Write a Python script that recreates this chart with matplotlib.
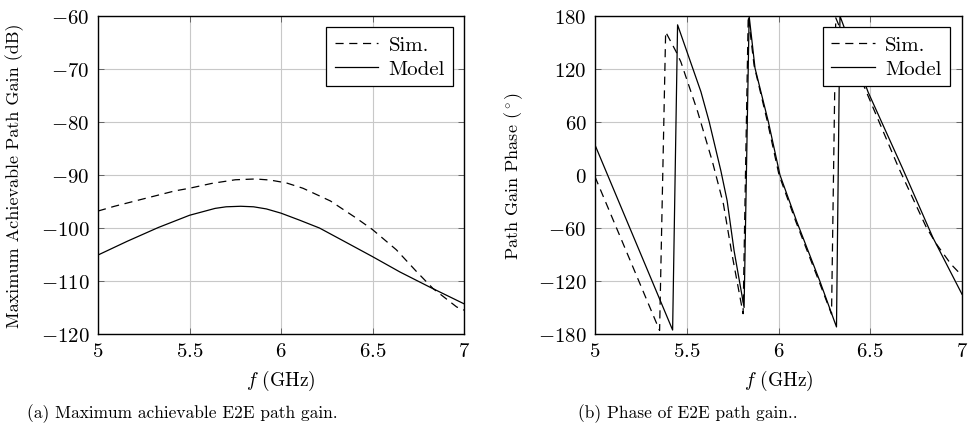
import matplotlib.pyplot as plt
import numpy as np
from matplotlib.ticker import FuncFormatter

# (a) maximum achievable E2E path gain, dB
f_gain_sim = [5.0, 5.09, 5.26, 5.42, 5.5, 5.62, 5.75, 5.86, 5.94, 6.03, 6.12,
              6.27, 6.41, 6.5, 6.63, 6.74, 6.83, 6.96, 7.0]
gain_sim = [-96.8, -95.9, -94.4, -93.0, -92.5, -91.6, -90.9, -90.75, -90.95,
            -91.5, -92.5, -94.9, -98.1, -100.3, -104.1, -108.2, -111.4, -114.9, -115.5]
f_gain_model = [5.0, 5.16, 5.33, 5.5, 5.64, 5.7, 5.78, 5.85, 5.92, 6.0, 6.1,
                6.21, 6.35, 6.5, 6.65, 6.81, 7.0]
gain_model = [-105.1, -102.5, -99.9, -97.6, -96.3, -96.0, -95.9, -96.0, -96.4,
              -97.2, -98.5, -100.0, -102.6, -105.4, -108.3, -111.1, -114.3]

# (b) phase of E2E path gain, degrees
f_phase_sim = [5.0, 5.352, 5.385, 5.441, 5.468, 5.559, 5.64, 5.70, 5.745, 5.807,
               5.835, 5.867, 5.94, 6.003, 6.095, 6.22, 6.289, 6.312, 6.479, 6.655,
               6.805, 6.86, 6.94, 7.0]
phase_sim = [-2, -176, 162, 140, 128, 72, 15, -33, -88, -157,
             180, 124, 60, 0, -53, -120, -157.5, 178, 94, 8,
             -59, -78, -101, -114]
f_phase_model = [5.0, 5.423, 5.45, 5.577, 5.622, 5.686, 5.72, 5.758, 5.8125,
                 5.84, 5.872, 5.945, 6.008, 6.1, 6.225, 6.316, 6.335, 6.488,
                 6.675, 6.841, 7.0]
phase_model = [34, -175.5, 170, 94.4, 60.5, 4.7, -29, -85.8, -150,
               180, 121, 60, 0, -53, -120, -172, 180, 94,
               8, -70.7, -135]

x_ticks = [5, 5.5, 6, 6.5, 7]
gain_ticks = [-120, -110, -100, -90, -80, -70, -60]
phase_ticks = [-180, -120, -60, 0, 60, 120, 180]

plt.rcParams['font.family'] = 'serif'
plt.rcParams['font.serif'] = ['cmr10']
plt.rcParams['mathtext.fontset'] = 'cm'
plt.rcParams['axes.formatter.use_mathtext'] = True
plt.rcParams['font.size'] = 14


def tick_fmt(v, pos):
    return f"${v:g}$"


fig = plt.figure(figsize=(9.69, 4.35), dpi=100)
ax1 = fig.add_axes([98 / 969, 100 / 435, 366 / 969, 318 / 435])
ax2 = fig.add_axes([595 / 969, 100 / 435, 367 / 969, 318 / 435])

ax1.plot(f_gain_sim, gain_sim, color='black', lw=0.9, dashes=(6.5, 4.5), label='Sim.')
ax1.plot(f_gain_model, gain_model, color='black', lw=0.9, label='Model')
ax1.set_ylim(-120, -60)
ax1.set_yticks(gain_ticks)
ax1.set_ylabel('Maximum Achievable Path Gain (dB)', fontsize=13)
ax1.yaxis.set_label_coords(-0.202, 0.5)

ax2.plot(f_phase_sim, phase_sim, color='black', lw=0.9, dashes=(6.5, 4.5), label='Sim.')
ax2.plot(f_phase_model, phase_model, color='black', lw=0.9, label='Model')
ax2.set_ylim(-180, 180)
ax2.set_yticks(phase_ticks)
ax2.set_ylabel(r'Path Gain Phase ($^\circ$)', fontsize=13)
ax2.yaxis.set_label_coords(-0.191, 0.5)

for ax, rx in ((ax1, 0.971), (ax2, 0.967)):
    ax.set_xlim(5, 7)
    ax.set_xticks(x_ticks)
    ax.xaxis.set_major_formatter(FuncFormatter(tick_fmt))
    ax.yaxis.set_major_formatter(FuncFormatter(tick_fmt))
    ax.set_xlabel(r'$f$ (GHz)')
    ax.xaxis.label.set_va('center')
    ax.xaxis.set_label_coords(0.5, -0.145)
    ax.grid(True, color='#c8c8c8', lw=0.8)
    ax.set_axisbelow(True)
    ax.tick_params(direction='in', length=4, width=0.6, top=True, right=True,
                   labelsize=15, pad=6, color='#555555')
    for sp in ax.spines.values():
        sp.set_linewidth(1.0)
    leg = ax.legend(loc='upper right', bbox_to_anchor=(rx, 0.965), borderaxespad=0,
                    fancybox=False, edgecolor='black', framealpha=1,
                    handlelength=2.1, handletextpad=0.5, labelspacing=0.25,
                    borderpad=0.4, fontsize=15)
    leg.get_frame().set_linewidth(0.9)

fig.text(182 / 969, 0.05, '(a) Maximum achievable E2E path gain.', ha='center', va='center', fontsize=12.5)
fig.text(688 / 969, 0.05, '(b) Phase of E2E path gain..', ha='center', va='center', fontsize=12.5)

fig.savefig('out.png', dpi=100)
